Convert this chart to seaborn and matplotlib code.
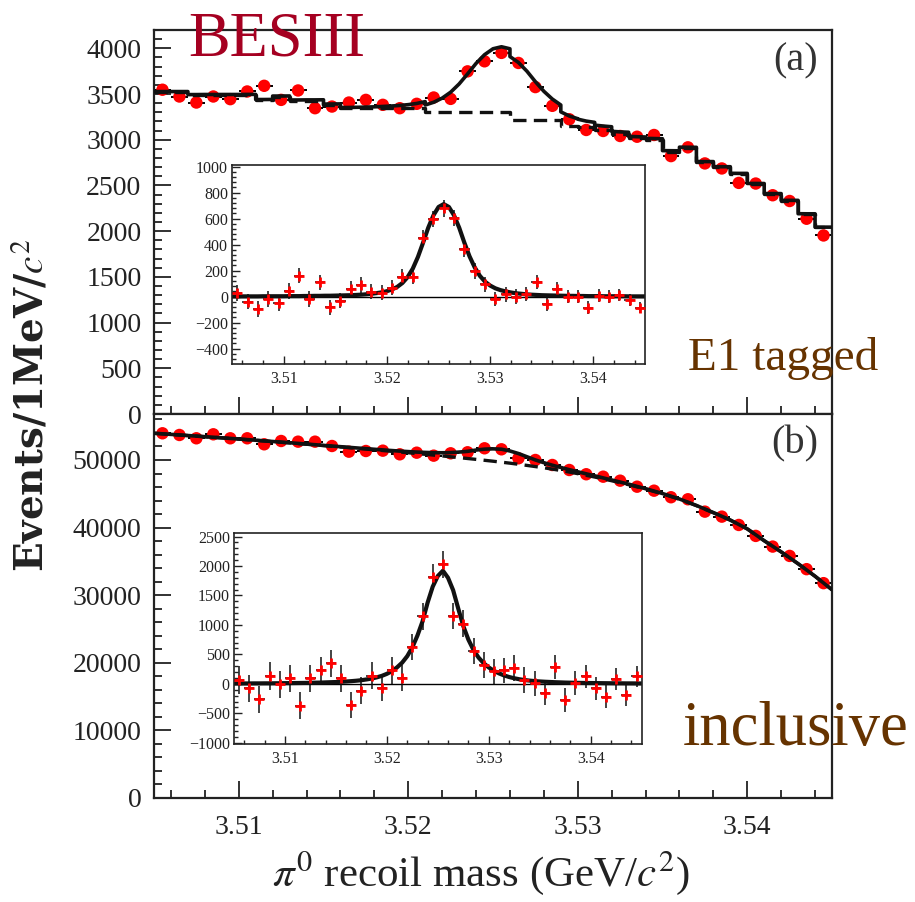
import numpy as np
import matplotlib
matplotlib.use("Agg")
import matplotlib.pyplot as plt
import seaborn as sns
from matplotlib.ticker import MultipleLocator

# ---------------- data ----------------
bin_centers = np.round(3.5055 + 0.001 * np.arange(40), 4)      # 1 MeV bins
curve_x = np.round(3.505 + 0.0005 * np.arange(81), 4)          # half-MeV grid for fit curves

# (a) E1 tagged
tagged_counts = [3547, 3473, 3407, 3473, 3444, 3528, 3590, 3436, 3539, 3345,
                 3363, 3407, 3436, 3382, 3345, 3393, 3462, 3447, 3748, 3858,
                 3950, 3840, 3576, 3371, 3224, 3107, 3096, 3041, 3033, 3052,
                 2821, 2917, 2741, 2686, 2528, 2521, 2393, 2330, 2136, 1953]
tagged_err = [60, 59, 58, 59, 59, 59, 60, 59, 59, 58, 58, 58, 59, 58, 58, 58, 59, 59, 61, 62,
              63, 62, 60, 58, 57, 56, 56, 55, 55, 55, 53, 54, 52, 52, 50, 50, 49, 48, 46, 44]
tagged_bkg = [3525, 3525, 3492, 3492, 3492, 3492, 3436, 3473, 3429, 3429,
              3382, 3342, 3342, 3342, 3342, 3342, 3305, 3305, 3305, 3305,
              3305, 3220, 3220, 3220, 3145, 3140, 3110, 3060, 3015, 3000,
              2870, 2910, 2755, 2700, 2628, 2518, 2408, 2334, 2188, 2042]
tagged_sig = [2, 2, 2, 2, 2, 2, 3, 3, 3, 3,
              3, 4, 4, 4, 5, 5, 6, 6, 7, 7,
              8, 9, 10, 11, 13, 15, 18, 22, 27, 33,
              42, 55, 75, 105, 150, 215, 305, 415, 530, 625,
              690, 712,
              690, 625, 530, 415, 310, 225, 160, 115, 85, 64,
              50, 40, 32, 26, 22, 18, 15, 13, 11, 10,
              9, 8, 7, 6, 6, 5, 5, 4, 4, 4,
              3, 3, 3, 3, 3, 2, 2, 2, 2]
tagged_sub = [26, -38, -95, -18, -51, 44, 162, -18, 110, -82,
              -31, 59, 90, 38, 31, 69, 154, 154, 454, 595,
              679, 603, 367, 197, 95, -18, 18, 0, 18, 110,
              -59, 56, 0, 0, -85, 8, 0, 13, -26, -85]

# (b) inclusive
incl_counts = [53950, 53700, 53210, 53800, 53210, 53210, 52320, 52810, 52710, 52710,
               52070, 51230, 51330, 51380, 50840, 51080, 50640, 50990, 51140, 51730,
               51580, 50250, 50000, 49260, 48520, 47890, 47530, 46940, 46050, 45460,
               44490, 44190, 42360, 41620, 40390, 38770, 37190, 35810, 33850, 31780]
incl_err = [232, 232, 231, 232, 231, 231, 229, 230, 230, 230, 228, 226, 227, 227, 225, 226,
            225, 226, 226, 227, 227, 224, 224, 222, 220, 219, 218, 217, 215, 213, 211, 210,
            206, 204, 201, 197, 193, 189, 184, 178]
incl_bkg = [53950, 53865, 53780, 53695, 53610, 53525, 53440, 53355, 53270, 53180,
            53090, 53000, 52910, 52815, 52720, 52625, 52530, 52430, 52330, 52230,
            52130, 52030, 51930, 51825, 51720, 51615, 51510, 51400, 51290, 51180,
            51070, 50955, 50840, 50720, 50600, 50475, 50350, 50220, 50090, 49955,
            49820, 49675, 49530, 49365, 49200, 49025, 48850, 48650, 48450, 48215,
            47980, 47730, 47480, 47205, 46930, 46640, 46350, 46025, 45700, 45350,
            45000, 44600, 44200, 43725, 43250, 42725, 42200, 41650, 41100, 40450,
            39800, 38925, 38050, 37225, 36400, 35525, 34650, 33725, 32800, 31800, 30800]
incl_sig = [6, 7, 7, 7, 8, 8, 9, 9, 10, 11,
            12, 13, 14, 15, 16, 18, 20, 22, 25, 28,
            31, 35, 40, 46, 53, 62, 75, 90, 110, 135,
            170, 215, 280, 360, 470, 620, 820, 1060, 1380, 1650,
            1830, 1920,
            1800, 1590, 1280, 980, 750, 575, 445, 350, 278, 222,
            178, 143, 116, 95, 78, 65, 55, 47, 41, 36,
            32, 28, 25, 22, 20, 18, 16, 15, 14, 13,
            12, 11, 10, 9, 9, 8, 8, 7, 7]
incl_sub = [68, -74, -261, 136, -6, 97, -375, 97, 227, 352,
            97, -358, -114, 136, -74, 227, 97, 625, 1148, 1813,
            2028, 1148, 1023, 551, 313, 210, 227, 267, 68, 11,
            -148, 284, -273, 11, 125, -74, -216, 80, -188, 125]

x_ticks = [3.51, 3.52, 3.53, 3.54]

# ---------------- style ----------------
sns.set_theme(style="ticks")
plt.rcParams["font.family"] = ["Liberation Serif", "DejaVu Serif"]
plt.rcParams["mathtext.fontset"] = "stix"

fig = plt.figure(figsize=(9.15, 9.02), dpi=100)
ax_a = fig.add_axes([0.1683, 0.541, 0.741, 0.4257])
ax_b = fig.add_axes([0.1683, 0.1153, 0.741, 0.4257])
in_a = fig.add_axes([0.2536, 0.5965, 0.4514, 0.2206])
in_b = fig.add_axes([0.2557, 0.1752, 0.4456, 0.2339])

RED = "#ff0000"


def style_main(ax, ymax, ymaj, ymin, show_x):
    ax.set_xlim(3.505, 3.545)
    ax.set_ylim(0, ymax)
    ax.set_xticks(x_ticks)
    ax.xaxis.set_minor_locator(MultipleLocator(0.002))
    ax.yaxis.set_major_locator(MultipleLocator(ymaj))
    ax.yaxis.set_minor_locator(MultipleLocator(ymin))
    ax.tick_params(which="both", direction="in", top=False, right=False,
                   width=1.3, colors="#222222", labelsize=20, labelcolor="#222222")
    ax.tick_params(which="major", length=12)
    ax.tick_params(which="minor", length=6)
    ax.tick_params(axis="x", labelbottom=show_x, pad=12)
    ax.tick_params(axis="y", pad=9)
    for s in ax.spines.values():
        s.set_linewidth(1.6)
        s.set_color("#222222")
    ax.set_xlabel("")
    ax.set_ylabel("")


def style_inset(ax, ylo, yhi, ymaj, ymin):
    ax.set_facecolor("white")
    ax.set_xlim(3.505, 3.545)
    ax.set_ylim(ylo, yhi)
    ax.set_xticks(x_ticks)
    ax.xaxis.set_minor_locator(MultipleLocator(0.002))
    ax.yaxis.set_major_locator(MultipleLocator(ymaj))
    ax.yaxis.set_minor_locator(MultipleLocator(ymin))
    ax.tick_params(which="both", direction="in", top=False, right=False,
                   width=1.0, labelsize=11.5, colors="#222222", labelcolor="#222222")
    ax.tick_params(which="major", length=6)
    ax.tick_params(which="minor", length=3)
    ax.tick_params(axis="x", pad=5)
    ax.tick_params(axis="y", pad=3)
    for s in ax.spines.values():
        s.set_linewidth(1.2)
        s.set_color("#222222")
    ax.set_xlabel("")
    ax.set_ylabel("")


# ---------------- panel (a) ----------------
tot_x, tot_y, bk_x, bk_y = [], [], [], []
for j in range(len(bin_centers)):
    for k in (2 * j, 2 * j + 1, 2 * j + 2):
        tot_x.append(curve_x[k])
        tot_y.append(tagged_bkg[j] + tagged_sig[k])
    bk_x += [curve_x[2 * j], curve_x[2 * j + 2]]
    bk_y += [tagged_bkg[j], tagged_bkg[j]]

ax_a.errorbar(bin_centers, tagged_counts, xerr=0.0005, yerr=tagged_err, fmt="none",
              ecolor="black", elinewidth=1.4, capsize=0, zorder=2)
sns.scatterplot(x=bin_centers, y=tagged_counts, ax=ax_a, color=RED, s=80,
                edgecolor="none", zorder=3)
sns.lineplot(x=bk_x, y=bk_y, ax=ax_a, estimator=None, sort=False, color="#111111",
             linewidth=2.4, zorder=4)
ax_a.lines[-1].set_dashes([4, 2.2])
sns.lineplot(x=tot_x, y=tot_y, ax=ax_a, estimator=None, sort=False, color="#111111",
             linewidth=2.6, zorder=5)
style_main(ax_a, 4200, 500, 100, False)

# ---------------- panel (b) ----------------
incl_tot = [b + s for b, s in zip(incl_bkg, incl_sig)]
ax_b.errorbar(bin_centers, incl_counts, xerr=0.0005, yerr=incl_err, fmt="none",
              ecolor="black", elinewidth=1.4, capsize=0, zorder=2)
sns.scatterplot(x=bin_centers, y=incl_counts, ax=ax_b, color=RED, s=80,
                edgecolor="none", zorder=3)
sns.lineplot(x=curve_x, y=incl_bkg, ax=ax_b, estimator=None, sort=False, color="#111111",
             linewidth=2.4, zorder=4)
ax_b.lines[-1].set_dashes([4, 2.2])
sns.lineplot(x=curve_x, y=incl_tot, ax=ax_b, estimator=None, sort=False, color="#111111",
             linewidth=2.6, zorder=5)
style_main(ax_b, 56800, 10000, 2000, True)

# ---------------- insets ----------------
for ax, sub, err, sig in ((in_a, tagged_sub, tagged_err, tagged_sig),
                          (in_b, incl_sub, incl_err, incl_sig)):
    ax.axhline(0, color="black", linewidth=1.0, zorder=1)
    sns.lineplot(x=curve_x, y=sig, ax=ax, estimator=None, sort=False, color="#111111",
                 linewidth=3.0, zorder=2)
    ax.errorbar(bin_centers, sub, xerr=0.0005, yerr=err, fmt="none", ecolor="#111111",
                elinewidth=1.1, capsize=0, zorder=3)
    sns.scatterplot(x=bin_centers, y=sub, ax=ax, color=RED, marker="+", s=45,
                    linewidth=2.0, zorder=4)
style_inset(in_a, -518, 1013, 200, 40)
style_inset(in_b, -1020, 2560, 500, 100)

# ---------------- texts ----------------
fig.text(0.2055, 0.939, "BESIII", color="#A50021", fontsize=45,
         family="Liberation Serif", ha="left", va="baseline")
fig.text(0.894, 0.932, "(a)", color="#333333", fontsize=29, ha="right", va="center")
fig.text(0.894, 0.508, "(b)", color="#333333", fontsize=29, ha="right", va="center")
fig.text(0.752, 0.5898, "E1 tagged", color="#663300", fontsize=34, ha="left", va="baseline")
fig.text(0.7464, 0.174, "inclusive", color="#663300", fontsize=45, ha="left", va="baseline")
fig.text(0.034, 0.55, "Events/1MeV/$c^2$", rotation=90, fontsize=28, fontweight="bold",
         family=["DejaVu Serif"], color="#222222", ha="center", va="center")
fig.text(0.525, 0.018, r"$\pi^0$ recoil mass (GeV/$c^2$)", fontsize=31, color="#222222",
         ha="center", va="baseline")

fig.savefig("out.png", dpi=100)
